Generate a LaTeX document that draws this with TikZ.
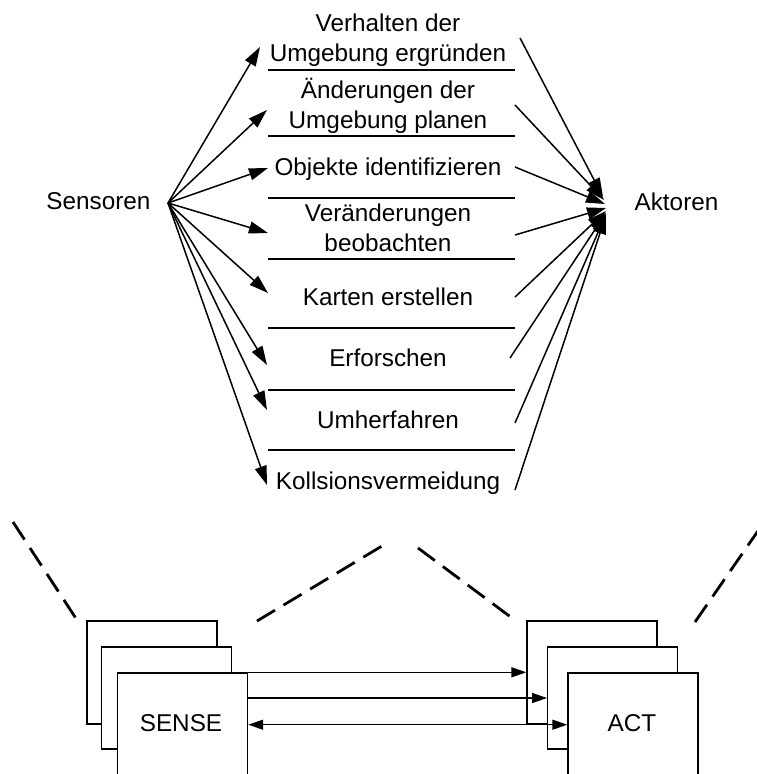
\documentclass[tikz,border=0pt]{standalone}
\usepackage{fontspec}
\setmainfont{Liberation Sans}
\usetikzlibrary{arrows.meta}
\begin{document}
\begin{tikzpicture}[x=1pt,y=-1pt,
  lbl/.style={font=\fontsize{24.3}{30}\selectfont, inner sep=0pt, anchor=base, align=center},
  rule/.style={line width=1.6pt},
  conn/.style={line width=1.5pt, -{Triangle[length=19pt,width=12pt]}},
  box/.style={draw, line width=1.4pt, fill=white, inner sep=0pt, minimum width=130pt},
  link/.style={line width=1.4pt, -{Triangle[length=15pt,width=10pt]}},
  trace/.style={line width=2.8pt, dash pattern=on 21pt off 10pt}]
\useasboundingbox (0,0) rectangle (757,774);
\clip (0,0) rectangle (757,774);

% behaviour layers (anchored on the baseline of the last line)
\node[lbl] (t1) at (388,61.7) {Verhalten der\\Umgebung ergründen};
\node[lbl] (t2) at (388,128.3) {Änderungen der\\Umgebung planen};
\node[lbl] (t3) at (388,175) {Objekte identifizieren};
\node[lbl] (t4) at (388,251.7) {Veränderungen\\beobachten};
\node[lbl] (t5) at (388,305) {Karten erstellen};
\node[lbl] (t6) at (388,366.7) {Erforschen};
\node[lbl] (t7) at (388,428.3) {Umherfahren};
\node[lbl] (t8) at (388,489.3) {Kollsionsvermeidung};

\node[lbl] (sens) at (98.5,209.3) {Sensoren};
\node[lbl] (akt) at (676.5,210) {Aktoren};

% separators between the layers
\foreach \y in {70,136,198,259,328,390,450}
  \draw[rule] (268,\y) -- (515,\y);

% sensor fan-out
\coordinate (src) at (168,203);
\coordinate (a1) at (260,47);
\coordinate (a2) at (267,110);
\coordinate (a3) at (268,168);
\coordinate (a4) at (268,233);
\coordinate (a5) at (268,293);
\coordinate (a6) at (267,365);
\coordinate (a7) at (267,410);
\coordinate (a8) at (267,485);
\foreach \i in {1,...,8}
  \draw[conn] (src) -- (a\i);

% actuator fan-in
\coordinate (b1) at (520,38);
\coordinate (b2) at (515,105);
\coordinate (b3) at (515,167);
\coordinate (b4) at (515,235);
\coordinate (b5) at (515,297);
\coordinate (b6) at (510,358);
\coordinate (b7) at (515,423);
\coordinate (b8) at (515,490);
\coordinate (d1) at (603,197);
\coordinate (d2) at (604,200);
\coordinate (d3) at (605,204);
\coordinate (d4) at (606,208);
\coordinate (d5) at (606,211);
\coordinate (d6) at (606,213);
\coordinate (d7) at (606,214);
\coordinate (d8) at (606,215);
\foreach \i in {1,...,8}
  \draw[conn] (b\i) -- (d\i);

% stacked module boxes
\node[box, minimum height=103pt] (sb) at (152,672.5) {};
\node[box, minimum height=102pt] (sm) at (166.75,698) {};
\node[box, minimum height=127pt] (sf) at (182.5,736.5) {};
\node[box, minimum height=103pt] (ab) at (592,672.5) {};
\node[box, minimum height=102pt] (am) at (612.75,698) {};
\node[box, minimum height=127pt] (af) at (633,736.5) {};

\node[lbl] (sense) at (181,731.7) {SENSE};
\node[lbl] (act) at (632,731.7) {ACT};

% links between the stacks
\draw[link] (sf.north east) -- (sf.north east -| ab.west);
\draw[link] (sf.east |- sm.center) -- (sm.center -| am.west);
\draw[link, {Triangle[length=15pt,width=10pt]}-{Triangle[length=15pt,width=10pt]}]
  (sf.east |- sb.south) -- (sb.south -| af.west);

% dashed projection lines
\draw[trace] (13,522) -- (77,620);
\draw[trace] (257,621) -- (387,543);
\draw[trace] (418,548) -- (516,621);
\draw[trace] (695,622) -- (760,528);
\end{tikzpicture}
\end{document}
